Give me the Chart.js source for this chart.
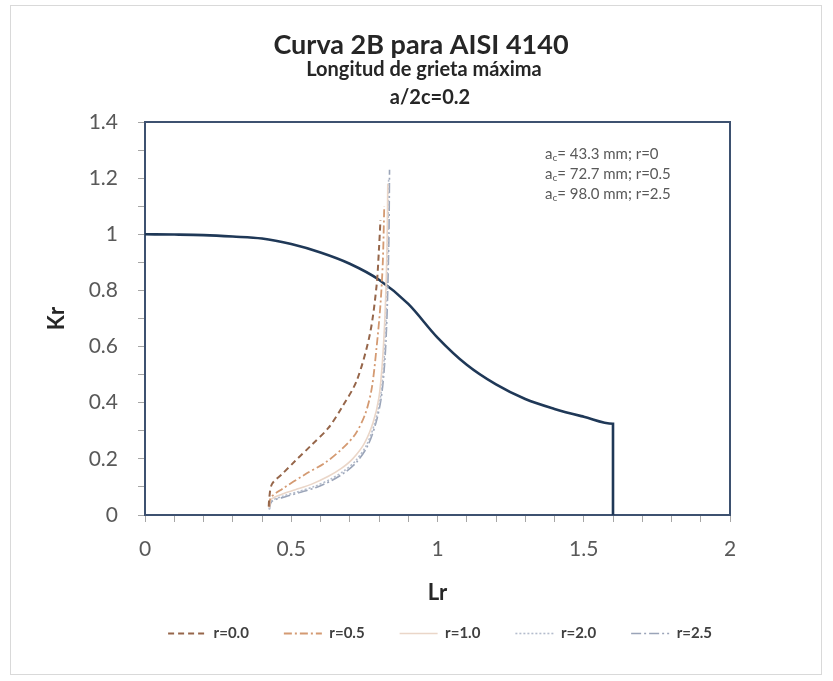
<!DOCTYPE html>
<html><head><meta charset="utf-8">
<script src="https://cdn.jsdelivr.net/npm/chart.js@4.4.1/dist/chart.umd.min.js"></script>
<style>
html,body{margin:0;padding:0;background:#fff;}
#wrap{position:relative;width:833px;height:681px;}
#frame{position:absolute;left:10px;top:5px;width:812px;height:670px;border:1px solid #d9d9d9;box-sizing:border-box;}
canvas{position:absolute;left:0;top:0;}
</style></head><body>
<div id="wrap"><div id="frame"></div><canvas id="c" width="833" height="681"></canvas></div>
<script>
// ---- texts ----
const titleText = 'Curva 2B para AISI 4140';
const subtitleLines = ['Longitud de grieta máxima', 'a/2c=0.2'];
const xAxisTitle = 'Lr';
const yAxisTitle = 'Kr';
const seriesNames = ['r=0.0', 'r=0.5', 'r=1.0', 'r=2.0', 'r=2.5'];
const noteCrack = ['43.3', '72.7', '98.0'];
const noteR = ['0', '0.5', '2.5'];

// ---- failure assessment curve ----
const fadLr = [0, 0.1, 0.2, 0.3, 0.4, 0.5, 0.6, 0.7, 0.8, 0.9, 1.0, 1.1, 1.2, 1.3, 1.4, 1.5, 1.6, 1.6];
const fadKr = [1.0, 0.999, 0.997, 0.992, 0.985, 0.965, 0.935, 0.895, 0.838, 0.752, 0.632, 0.535, 0.465, 0.413, 0.378, 0.350, 0.325, 0];

// ---- crack growth paths ----
const lrR00 = [0.423, 0.425, 0.434, 0.468, 0.514, 0.570, 0.627, 0.673, 0.724, 0.769, 0.792, 0.800, 0.805];
const krR00 = [0.030, 0.062, 0.110, 0.145, 0.193, 0.250, 0.310, 0.383, 0.479, 0.645, 0.820, 0.950, 1.050];
const lrR05 = [0.425, 0.430, 0.468, 0.548, 0.617, 0.673, 0.719, 0.753, 0.775, 0.792, 0.805, 0.813, 0.818];
const krR05 = [0.030, 0.062, 0.092, 0.145, 0.187, 0.235, 0.288, 0.360, 0.450, 0.600, 0.750, 0.900, 1.100];
const lrR10 = [0.425, 0.430, 0.470, 0.514, 0.570, 0.627, 0.670, 0.710, 0.750, 0.780, 0.800, 0.812, 0.820, 0.825, 0.828, 0.830];
const krR10 = [0.025, 0.055, 0.075, 0.090, 0.110, 0.138, 0.165, 0.200, 0.255, 0.330, 0.420, 0.550, 0.700, 0.850, 1.000, 1.180];
const lrR20 = [0.425, 0.432, 0.475, 0.520, 0.580, 0.635, 0.680, 0.720, 0.758, 0.786, 0.805, 0.817, 0.824, 0.828, 0.831, 0.833];
const krR20 = [0.020, 0.050, 0.068, 0.082, 0.102, 0.128, 0.157, 0.193, 0.250, 0.330, 0.420, 0.550, 0.700, 0.850, 1.000, 1.200];
const lrR25 = [0.425, 0.433, 0.480, 0.525, 0.585, 0.640, 0.685, 0.725, 0.762, 0.790, 0.808, 0.820, 0.827, 0.831, 0.834, 0.836];
const krR25 = [0.020, 0.048, 0.065, 0.079, 0.098, 0.124, 0.153, 0.190, 0.248, 0.330, 0.420, 0.550, 0.700, 0.850, 1.000, 1.230];

const pts = (xs, ys) => xs.map((x, i) => ({x: x, y: ys[i]}));
const FONT = 'Lato, "Open Sans", sans-serif';

const framePlugin = {
  id: 'frame',
  afterLayout(chart) {
    // place the legend row like the reference (slightly right, closer to the axis title)
    const lg = chart.legend;
    if (lg) { lg.left += 55; lg.right += 55; lg.top -= 19; lg.bottom -= 19; }
  },
  beforeDatasetsDraw(chart) {
    const {ctx, chartArea: a} = chart;
    ctx.save();
    ctx.strokeStyle = '#3d5170';
    ctx.lineWidth = 2;
    ctx.strokeRect(a.left, a.top, a.right - a.left, a.bottom - a.top);
    ctx.restore();
  },
  afterDraw(chart) {
    const ctx = chart.ctx;
    ctx.save();
    ctx.textAlign = 'center';
    ctx.textBaseline = 'middle';
    ctx.fillStyle = '#262626';
    ctx.font = 'bold 27px ' + FONT;
    ctx.fillText(titleText, 421, 45);
    ctx.font = 'bold 20px ' + FONT;
    ctx.fillText(subtitleLines[0], 424, 70);
    ctx.fillText(subtitleLines[1], 430, 98);
    // annotation
    ctx.textAlign = 'left';
    ctx.fillStyle = '#595959';
    const x0 = 545;
    for (let i = 0; i < noteCrack.length; i++) {
      const y = 154 + i * 20;
      ctx.font = '15px ' + FONT;
      ctx.fillText('a', x0, y);
      let w = ctx.measureText('a').width;
      ctx.font = '10px ' + FONT;
      ctx.fillText('c', x0 + w, y + 4);
      w += ctx.measureText('c').width;
      ctx.font = '15px ' + FONT;
      ctx.fillText('= ' + noteCrack[i] + ' mm; r=' + noteR[i], x0 + w, y);
    }
    ctx.restore();
  }
};

const ds = (label, xs, ys, color, dash, width) => ({
  label: label,
  data: pts(xs, ys),
  borderColor: color,
  backgroundColor: color,
  borderDash: dash,
  borderWidth: width,
  pointRadius: 0,
  pointStyle: 'line',
  tension: 0.3,
  fill: false
});

const chart = new Chart(document.getElementById('c'), {
  type: 'line',
  data: {
    datasets: [
      ds(seriesNames[0], lrR00, krR00, '#96664a', [6, 4], 2),
      ds(seriesNames[1], lrR05, krR05, '#d49a72', [8, 3, 2, 3], 1.8),
      ds(seriesNames[2], lrR10, krR10, '#ead6c8', [], 1.6),
      ds(seriesNames[3], lrR20, krR20, '#b4bccc', [2, 2], 1.6),
      ds(seriesNames[4], lrR25, krR25, '#9aa4b8', [10, 3, 2, 3], 1.6),
      {
        label: 'FAD',
        data: pts(fadLr, fadKr),
        borderColor: '#1f3857',
        backgroundColor: '#1f3857',
        borderWidth: 2.6,
        pointRadius: 0,
        cubicInterpolationMode: 'monotone',
        fill: false
      }
    ]
  },
  options: {
    responsive: false,
    animation: false,
    layout: {padding: {left: 40, right: 103, top: 122, bottom: 11}},
    plugins: {
      title: {display: false},
      tooltip: {enabled: false},
      legend: {
        position: 'bottom',
        labels: {
          usePointStyle: true,
          pointStyle: 'line',
          pointStyleWidth: 38,
          padding: 35,
          color: '#404040',
          font: {family: FONT, size: 15, weight: 'bold'},
          generateLabels: (ch) => ch.data.datasets
            .map((d, i) => ({
              text: d.label,
              datasetIndex: i,
              strokeStyle: d.borderColor,
              fillStyle: d.borderColor,
              lineWidth: d.borderWidth,
              lineDash: d.borderDash || [],
              pointStyle: 'line',
              hidden: false,
              fontColor: '#404040'
            }))
            .filter((it) => it.text !== 'FAD')
        }
      }
    },
    scales: {
      x: {
        type: 'linear', min: 0, max: 2,
        afterFit: (s) => { s.height = 95; },
        border: {display: false},
        grid: {drawOnChartArea: false, drawTicks: true, tickLength: 7, color: '#a6a6a6'},
        ticks: {
          stepSize: 0.1, autoSkip: false, maxRotation: 0, padding: 15,
          color: '#595959', font: {family: FONT, size: 21},
          callback: (v) => { const k = Math.round(v * 10); return k % 5 === 0 ? String(k / 10) : ''; }
        },
        title: {display: true, text: xAxisTitle, color: '#262626', font: {family: FONT, size: 22, weight: 'bold'}}
      },
      y: {
        type: 'linear', min: 0, max: 1.4,
        afterFit: (s) => { s.width = 105; },
        border: {display: false},
        grid: {drawOnChartArea: false, drawTicks: true, tickLength: 7, color: '#a6a6a6'},
        ticks: {
          stepSize: 0.1, autoSkip: false, padding: 20,
          color: '#595959', font: {family: FONT, size: 21},
          callback: (v) => { const k = Math.round(v * 10); return k % 2 === 0 ? String(k / 10) : ''; }
        },
        title: {display: true, text: yAxisTitle, color: '#262626', font: {family: FONT, size: 22, weight: 'bold'}}
      }
    }
  },
  plugins: [framePlugin]
});
</script>
</body></html>
